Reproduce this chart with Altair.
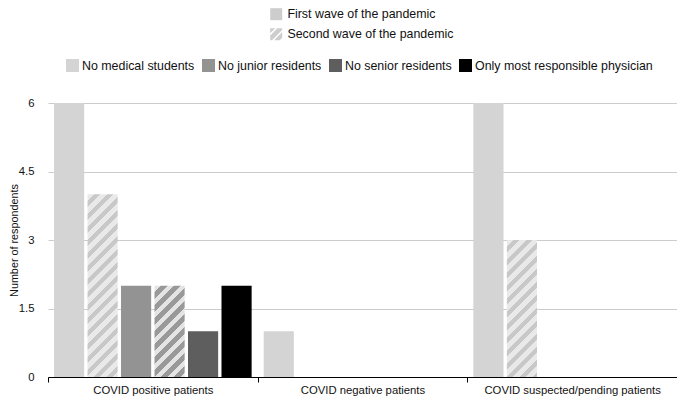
import math
import altair as alt
import pandas as pd

# ---------------- data ----------------
categories = ["COVID positive patients", "COVID negative patients", "COVID suspected/pending patients"]
groups = ["No medical students", "No junior residents", "No senior residents", "Only most responsible physician"]
waves = ["First wave of the pandemic", "Second wave of the pandemic"]

slots = ["s1", "s2", "s3", "s4", "s5", "s6"]
slot_group = ["No medical students", "No medical students", "No junior residents",
              "No junior residents", "No senior residents", "Only most responsible physician"]
slot_wave = [0, 1, 0, 1, 0, 0]

positive_values = [6, 4, 2, 2, 1, 2]
negative_values = [1, 0, 0, 0, 0, 0]
suspected_values = [6, 3, 0, 0, 0, 0]
category_values = [positive_values, negative_values, suspected_values]

y_ticks = [0, 1.5, 3, 4.5, 6]

# ---------------- style ----------------
solid_colors = ["#d4d4d4", "#939393", "#5e5e5e", "#000000"]
hatch_colors = {"No medical students": ("#e9e9e9", "#c8c8c8"),
                "No junior residents": ("#e4e4e4", "#999999")}
FONT = "Liberation Sans"
W, H = 629, 274
Y_MAX = 6
PAD_IN, PAD_OUT = 0.1, 0.18
group_w = W / len(categories)
step = group_w / (len(slots) - PAD_IN + 2 * PAD_OUT)
bar_w = step * (1 - PAD_IN)
PERIOD = 13.0


def hatch_gradient(w, h, light, dark, period):
    L = w + h
    c = L / (w * w + h * h)
    half = period / 2.0
    n = math.ceil(L / half)
    stops = []
    for i in range(n):
        col = light if i % 2 == 0 else dark
        t0 = i * half / L
        t1 = min((i + 1) * half / L, 1.0)
        stops.append({"offset": round(t0, 4), "color": col})
        stops.append({"offset": round(t1, 4), "color": col})
    return {"gradient": "linear", "x1": 0, "y1": 0,
            "x2": round(w * c, 5), "y2": round(h * c, 5), "stops": stops}


def clip_band(s0, s1):
    """Polygon of the band s0 <= x+y <= s1 inside the unit symbol square [-1,1]^2."""
    poly = [(-1, -1), (1, -1), (1, 1), (-1, 1)]

    def clip(pts, keep, inter):
        out = []
        for i in range(len(pts)):
            a, b = pts[i], pts[(i + 1) % len(pts)]
            ka, kb = keep(a), keep(b)
            if ka:
                out.append(a)
            if ka != kb:
                out.append(inter(a, b))
        return out

    def make_inter(s):
        def inter(a, b):
            sa, sb = a[0] + a[1], b[0] + b[1]
            t = (s - sa) / (sb - sa)
            return (a[0] + t * (b[0] - a[0]), a[1] + t * (b[1] - a[1]))
        return inter

    poly = clip(poly, lambda p: p[0] + p[1] >= s0, make_inter(s0))
    poly = clip(poly, lambda p: p[0] + p[1] <= s1, make_inter(s1))
    if len(poly) < 3:
        return ""
    return "M" + "L".join(f"{x:.3f},{y:.3f}" for x, y in poly) + "Z"


hatch_path = "".join(clip_band(a, b) for a, b in [(-2.0, -1.15), (-0.8, 0.3), (0.65, 1.6)])

rows = []
conditions = []
for cat, vals in zip(categories, category_values):
    for s, g, wv, v in zip(slots, slot_group, slot_wave, vals):
        key = f"{cat}|{s}"
        rows.append({"cat": cat, "slot": s, "group": g, "wave": waves[wv],
                     "value": v, "key": key})
        if wv == 1 and v > 0:
            light, dark = hatch_colors[g]
            grad = hatch_gradient(bar_w, v / Y_MAX * H, light, dark, PERIOD)
            conditions.append({"test": f"datum.key === '{key}'", "value": grad})

df = pd.DataFrame(rows)

bars = alt.Chart(df).mark_bar().encode(
    x=alt.X("cat:N", sort=categories,
            scale=alt.Scale(paddingInner=0, paddingOuter=0),
            axis=alt.Axis(title=None, labelAngle=0, tickBand="extent",
                          domainColor="#000000", domainWidth=1.2,
                          tickColor="#000000", tickSize=5, tickWidth=1,
                          labelPadding=2, labelFontSize=11.3, labelColor="#111111",
                          grid=False)),
    xOffset=alt.XOffset("slot:N", sort=slots,
                        scale=alt.Scale(paddingInner=PAD_IN, paddingOuter=PAD_OUT)),
    y=alt.Y("value:Q", scale=alt.Scale(domain=[0, Y_MAX], nice=False),
            axis=alt.Axis(values=y_ticks, labelExpr="datum.value + ''",
                          title="Number of respondents",
                          grid=True, gridColor="#cccccc", gridWidth=1,
                          domain=False, ticks=False, labelPadding=14,
                          labelFontSize=11.3, labelColor="#111111",
                          titleFontSize=10.8, titleFontWeight="normal",
                          titleColor="#111111", titleX=-29, titleY=H / 2)),
    color=alt.Color("group:N",
                    scale=alt.Scale(domain=groups, range=solid_colors),
                    legend=alt.Legend(title=None, orient="none", legendX=18, legendY=-44,
                                      direction="horizontal", symbolType="square",
                                      symbolSize=169, symbolStrokeWidth=0,
                                      labelFontSize=12.4, labelColor="#111111",
                                      labelOffset=3, columnPadding=7, labelLimit=0),
                    condition=conditions),
)

# legend-only layer for the two pandemic waves (no marks drawn)
wave_legend = alt.Chart(df).transform_filter("false").mark_point(
    filled=True, color="#cdcdcd", opacity=1
).encode(
    shape=alt.Shape("wave:N",
                    scale=alt.Scale(domain=waves, range=["square", hatch_path]),
                    legend=alt.Legend(title=None, orient="none", legendX=222, legendY=-95,
                                      direction="vertical", symbolSize=144,
                                      symbolStrokeWidth=0, symbolFillColor="#cdcdcd",
                                      labelFontSize=12.4, labelColor="#111111",
                                      labelOffset=5, rowPadding=7, labelLimit=0)),
)

chart = alt.layer(bars, wave_legend).properties(
    width=W, height=H,
    autosize=alt.AutoSizeParams(type="none"),
    padding={"left": 40, "top": 95, "right": 0, "bottom": 20},
).configure(font=FONT).configure_view(strokeWidth=0)

chart.save("out.html", embed_options={"renderer": "svg", "actions": False})
